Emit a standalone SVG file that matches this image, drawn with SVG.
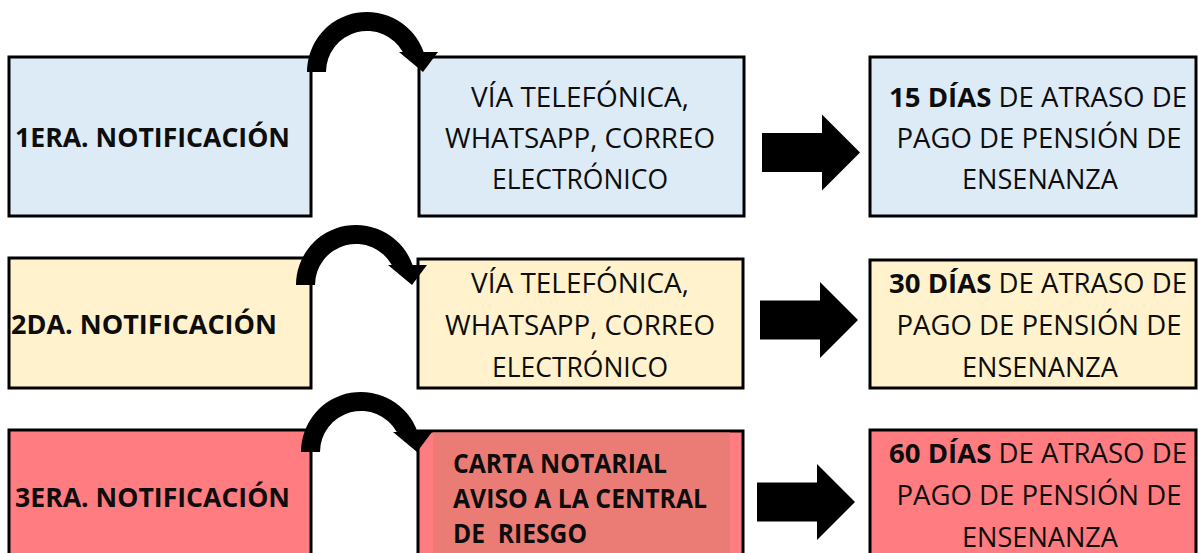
<svg xmlns="http://www.w3.org/2000/svg" width="1198" height="553" viewBox="0 0 1198 553">
<style>
.box{stroke:#000;stroke-width:3}
.blue{fill:#DDEBF7}
.yellow{fill:#FFF2CC}
.red{fill:#FF7C80}
.t{font-family:"Open Sans","Liberation Sans",sans-serif;font-size:26.5px;fill:#0d0d0d}
.b{font-weight:bold}
.c{text-anchor:middle}
.arrow{fill:#000}
</style>
<defs>
<path id="curve" d="M -60,0 A 60,60 0 0 1 56.6,-20 L 71,-20 L 56,0 L 32,-20 L 35.8,-20 A 41,41 0 0 0 -41,0 Z"/>
<path id="block" d="M0,-19.5 H60 V-38 L98,0 L60,38 V19.5 H0 Z"/>
</defs>

<g id="n1a">
<rect class="box blue" x="9" y="57" width="302" height="159"/>
<text class="t b" x="15" y="147" textLength="275" lengthAdjust="spacingAndGlyphs">1ERA. NOTIFICACIÓN</text>
</g>
<g id="n1b">
<rect class="box blue" x="419" y="57" width="325" height="159"/>
<text class="t c" x="580" y="107" textLength="218" lengthAdjust="spacingAndGlyphs">VÍA TELEFÓNICA,</text>
<text class="t c" x="580" y="148" textLength="270" lengthAdjust="spacingAndGlyphs">WHATSAPP, CORREO</text>
<text class="t c" x="580" y="189" textLength="176" lengthAdjust="spacingAndGlyphs">ELECTRÓNICO</text>
</g>
<g id="n1c">
<rect class="box blue" x="870" y="57" width="326" height="159"/>
<text class="t c" x="1038" y="107" textLength="298" lengthAdjust="spacingAndGlyphs"><tspan class="b">15 DÍAS</tspan> DE ATRASO DE</text>
<text class="t c" x="1039" y="148" textLength="285" lengthAdjust="spacingAndGlyphs">PAGO DE PENSIÓN DE</text>
<text class="t c" x="1040" y="189" textLength="156" lengthAdjust="spacingAndGlyphs">ENSENANZA</text>
</g>

<g id="n2a">
<rect class="box yellow" x="9" y="258" width="302" height="130"/>
<text class="t b" x="11" y="334" textLength="266" lengthAdjust="spacingAndGlyphs">2DA. NOTIFICACIÓN</text>
</g>
<g id="n2b">
<rect class="box yellow" x="418" y="259" width="325" height="129"/>
<text class="t c" x="580" y="293" textLength="218" lengthAdjust="spacingAndGlyphs">VÍA TELEFÓNICA,</text>
<text class="t c" x="580" y="335" textLength="270" lengthAdjust="spacingAndGlyphs">WHATSAPP, CORREO</text>
<text class="t c" x="580" y="377" textLength="176" lengthAdjust="spacingAndGlyphs">ELECTRÓNICO</text>
</g>
<g id="n2c">
<rect class="box yellow" x="870" y="260" width="326" height="128"/>
<text class="t c" x="1038" y="293" textLength="298" lengthAdjust="spacingAndGlyphs"><tspan class="b">30 DÍAS</tspan> DE ATRASO DE</text>
<text class="t c" x="1039" y="335" textLength="285" lengthAdjust="spacingAndGlyphs">PAGO DE PENSIÓN DE</text>
<text class="t c" x="1040" y="377" textLength="156" lengthAdjust="spacingAndGlyphs">ENSENANZA</text>
</g>

<g id="n3a">
<rect class="box red" x="9" y="430" width="302" height="140"/>
<text class="t b" x="15" y="507" textLength="275" lengthAdjust="spacingAndGlyphs">3ERA. NOTIFICACIÓN</text>
</g>
<g id="n3b">
<rect class="box red" x="418" y="431" width="325" height="140"/>
<rect x="433" y="432.5" width="297" height="130" fill="#EB7C75"/>
<text class="t b" x="453" y="473" textLength="214" lengthAdjust="spacingAndGlyphs">CARTA NOTARIAL</text>
<text class="t b" x="453" y="508" textLength="254" lengthAdjust="spacingAndGlyphs">AVISO A LA CENTRAL</text>
<text class="t b" x="453" y="543" xml:space="preserve" textLength="134" lengthAdjust="spacingAndGlyphs">DE  RIESGO</text>
</g>
<g id="n3c">
<rect class="box red" x="870" y="430" width="326" height="140"/>
<text class="t c" x="1038" y="463" textLength="298" lengthAdjust="spacingAndGlyphs"><tspan class="b">60 DÍAS</tspan> DE ATRASO DE</text>
<text class="t c" x="1039" y="505" textLength="285" lengthAdjust="spacingAndGlyphs">PAGO DE PENSIÓN DE</text>
<text class="t c" x="1040" y="547" textLength="156" lengthAdjust="spacingAndGlyphs">ENSENANZA</text>
</g>

<g id="connectors" class="arrow">
<use href="#curve" transform="translate(367,72)"/>
<use href="#curve" transform="translate(356,285)"/>
<use href="#curve" transform="translate(361,452)"/>
<use href="#block" transform="translate(762,152.5)"/>
<use href="#block" transform="translate(760,320)"/>
<use href="#block" transform="translate(757,502)"/>
</g>
</svg>
